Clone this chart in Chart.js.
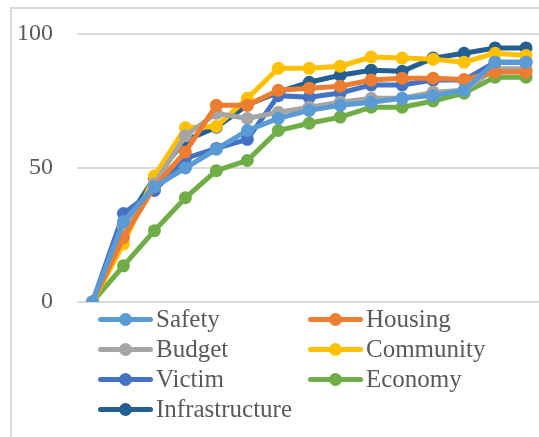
<!DOCTYPE html>
<html>
<head>
<meta charset="utf-8">
<script src="https://cdn.jsdelivr.net/npm/chart.js@4"></script>
<style>
  html, body { margin: 0; padding: 0; overflow: hidden; background: #fff; }
  #wrap { position: relative; width: 548px; height: 437px; }
  #frame { position: absolute; left: 10px; top: 7px; width: 600px; height: 500px; border: 2px solid #d9d9d9; box-sizing: border-box; }
  #chart { position: absolute; left: 0; top: 0; }
  #legend { position: absolute; left: 98px; top: 304px; width: 420px; display: flex; flex-wrap: wrap; font-family: "Liberation Serif", serif; font-size: 25px; line-height: 30px; color: #595959; }
  .item { display: flex; align-items: center; width: 210px; height: 30px; white-space: nowrap; }
  .sw { position: relative; width: 55px; height: 5px; border-radius: 3px; margin-right: 3px; flex: none; }
  .sw span { position: absolute; left: 21px; top: -4px; width: 13px; height: 13px; border-radius: 50%; }
</style>
</head>
<body>
<div id="wrap">
  <div id="frame"></div>
  <canvas id="chart" width="548" height="437"></canvas>
  <div id="legend"></div>
</div>
<script>
const categories = ['1', '2', '3', '4', '5', '6', '7', '8', '9', '10', '11', '12', '13', '14', '15'];

const safety = [0, 30, 43, 50, 57, 64, 68.5, 71.5, 73.4, 74.5, 76, 77, 79, 89.5, 89.5];
const housing = [0, 24, 43, 56, 73.4, 73.4, 79, 79.8, 80.5, 82.8, 83.5, 83.5, 83, 85.8, 85.8];
const budget = [0, 28, 44, 62, 70.4, 68.5, 70.8, 72.7, 74.5, 76, 76, 78.3, 79, 87, 87];
const community = [0, 21.7, 47, 65, 65.5, 76, 87.2, 87.2, 88, 91.4, 91, 90.6, 89.5, 92.8, 92];
const victim = [0, 33, 41.6, 53.6, 57.3, 60.7, 77, 76.4, 78, 81, 81, 82.8, 82.8, 89.5, 89.5];
const economy = [0, 13.5, 26.6, 38.9, 49, 52.8, 64, 66.7, 69, 72.7, 72.7, 75, 77.9, 83.9, 83.9];
const infrastructure = [0, 28.5, 46.4, 60.3, 65.2, 73.5, 78.3, 82, 84.6, 86.5, 86.1, 91, 92.8, 94.8, 94.8];

const yTicks = [0, 50, 100];

function serie(label, data, color) {
    return {
        label: label,
        data: data,
        borderColor: color,
        backgroundColor: color,
        borderWidth: 5,
        pointRadius: 6.5,
        pointBorderWidth: 0,
        pointBackgroundColor: color,
        tension: 0
    };
}

const datasets = [
    serie('Safety', safety, '#5b9bd5'),
    serie('Housing', housing, '#ed7d31'),
    serie('Budget', budget, '#a5a5a5'),
    serie('Community', community, '#ffc000'),
    serie('Victim', victim, '#4472c4'),
    serie('Economy', economy, '#70ad47'),
    serie('Infrastructure', infrastructure, '#255e91')
];

new Chart(document.getElementById('chart'), {
    type: 'line',
    data: { labels: categories, datasets: datasets },
    options: {
        responsive: false,
        animation: false,
        layout: { padding: { top: 34, bottom: 127, left: 0, right: 1 } },
        plugins: {
            legend: { display: false },
            tooltip: { enabled: false }
        },
        scales: {
            x: {
                offset: true,
                grid: { display: false },
                border: { display: false },
                ticks: { display: false }
            },
            y: {
                min: 0,
                max: 100,
                afterFit: function (scale) {
                    scale.width = 77;
                    scale.paddingTop = 4;
                    scale.paddingBottom = 4;
                },
                afterBuildTicks: function (scale) { scale.ticks = yTicks.map(v => ({ value: v })); },
                grid: { color: '#d9d9d9', lineWidth: 2, drawTicks: false },
                border: { display: false },
                ticks: {
                    padding: 24,
                    color: '#595959',
                    font: { family: 'Liberation Serif', size: 24 }
                }
            }
        }
    }
});

// legenda em duas colunas, por cima da área do gráfico
const legenda = document.getElementById('legend');
datasets.forEach(function (d) {
    const item = document.createElement('div');
    item.className = 'item';
    item.innerHTML = '<div class="sw" style="background:' + d.borderColor + '"><span style="background:' + d.borderColor + '"></span></div>' + d.label;
    legenda.appendChild(item);
});
</script>
</body>
</html>
